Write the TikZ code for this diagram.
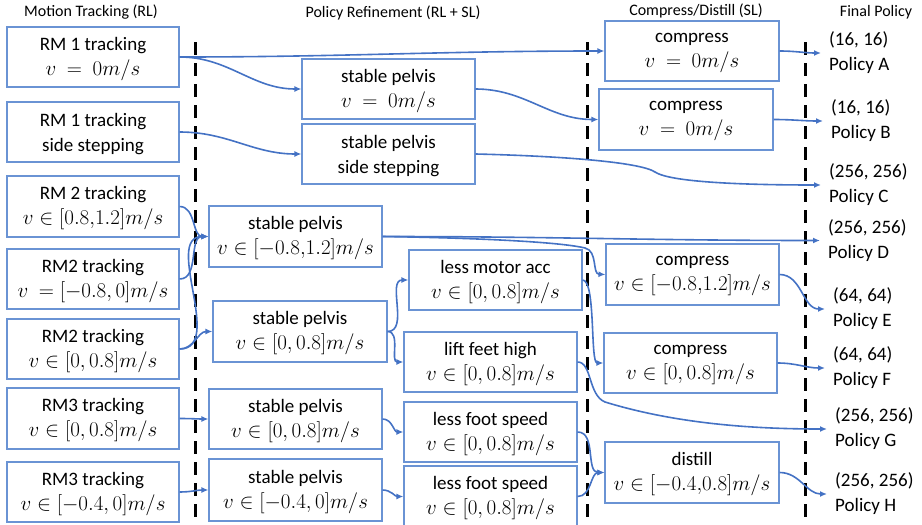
\RequirePackage{fix-cm}
\documentclass[tikz,border=0pt]{standalone}
\usepackage[no-math]{fontspec}
\setmainfont{Carlito}
\usetikzlibrary{arrows.meta}
\definecolor{lineblue}{HTML}{4472C4}
\definecolor{boxblue}{HTML}{6A93D4}
\newcommand\bxfont{\fontsize{19}{25}\selectfont}
\newcommand\hdfont{\fontsize{16}{20}\selectfont}
\newcommand\mth[1]{{\fontsize{21}{25}\selectfont$#1$}}
\begin{document}
\begin{tikzpicture}[x=1pt,y=-1pt,
  box/.style={draw=boxblue, line width=1.1pt, fill=white, inner sep=0pt},
  btxt/.style={align=center, inner sep=0pt, font=\bxfont, yshift=-2pt},
  pol/.style={anchor=west, align=left, inner xsep=8pt, inner ysep=0pt, font=\bxfont},
  hdr/.style={font=\hdfont, inner sep=0pt},
  conn/.style={draw=lineblue, line width=1.6pt, -{Latex[length=7pt,width=6pt]}},
  stage/.style={draw=black, line width=3pt, dash pattern=on 13pt off 8pt}]
\useasboundingbox (0,0) rectangle (922,525);
% headers
\node[hdr] (h1) at (91,12) {Motion Tracking (RL)};
\node[hdr] (h2) at (393,13) {Policy Refinement (RL + SL)};
\node[hdr] (h3) at (696,11) {Compress/Distill (SL)};
\node[hdr] (h4) at (876,12) {Final Policy};
% stage separators
\coordinate (d1t) at (195,42); \coordinate (d1b) at (195,525);
\coordinate (d2t) at (587,42); \coordinate (d2b) at (587,525);
\coordinate (d3t) at (805,42); \coordinate (d3b) at (805,525);
\draw[stage] (d1t) -- (d1b);
\draw[stage] (d2t) -- (d2b);
\draw[stage] (d3t) -- (d3b);
% column 1
\node[box, minimum width=172pt, minimum height=60pt, label={[btxt]center:{RM 1 tracking\\\mth{v\ =\ 0m/s}}}] (rm1a) at (93,57) {};
\node[box, minimum width=172pt, minimum height=60pt, label={[btxt]center:{RM 1 tracking\\side stepping}}] (rm1b) at (93,132) {};
\node[box, minimum width=172pt, minimum height=61pt, label={[btxt]center:{RM 2 tracking\\\mth{v\in[0.8{,}1.2]m/s}}}] (rm2a) at (93,206.5) {};
\node[box, minimum width=172pt, minimum height=60pt, label={[btxt]center:{RM2 tracking\\\mth{v\ = [-0.8, 0]m/s}}}] (rm2b) at (93,279) {};
\node[box, minimum width=172pt, minimum height=60pt, label={[btxt]center:{RM2 tracking\\\mth{v\in[0, 0.8]m/s}}}] (rm2c) at (93,349) {};
\node[box, minimum width=172pt, minimum height=61pt, label={[btxt]center:{RM3 tracking\\\mth{v\in[0, 0.8]m/s}}}] (rm3a) at (93,418.5) {};
\node[box, minimum width=172pt, minimum height=60pt, label={[btxt]center:{RM3 tracking\\\mth{v\in[-0.4, 0]m/s}}}] (rm3b) at (93,492) {};
% column 2
\node[box, minimum width=173pt, minimum height=60pt, label={[btxt]center:{stable pelvis\\\mth{v\ =\ 0m/s}}}] (spv0) at (388.5,89) {};
\node[box, minimum width=173pt, minimum height=60pt, label={[btxt]center:{stable pelvis\\side stepping}}] (spss) at (388.5,154) {};
\node[box, minimum width=173pt, minimum height=61pt, label={[btxt]center:{stable pelvis\\\mth{v\in[-0.8{,}1.2]m/s}}}] (spd) at (295.5,236.5) {};
\node[box, minimum width=174pt, minimum height=61pt, label={[btxt]center:{stable pelvis\\\mth{v\in[0, 0.8]m/s}}}] (spe) at (300,331.5) {};
\node[box, minimum width=173pt, minimum height=60pt, label={[btxt]center:{less motor acc\\\mth{v\in[0, 0.8]m/s}}}] (lma) at (495.5,280) {};
\node[box, minimum width=173pt, minimum height=60pt, label={[btxt]center:{lift feet high\\\mth{v\in[0, 0.8]m/s}}}] (lfh) at (490.5,362) {};
\node[box, minimum width=173pt, minimum height=60pt, label={[btxt]center:{stable pelvis\\\mth{v\in[0, 0.8]m/s}}}] (sp3) at (295.5,419) {};
\node[box, minimum width=173pt, minimum height=62pt, label={[btxt]center:{stable pelvis\\\mth{v\in[-0.4, 0]m/s}}}] (sp4) at (295.5,490) {};
\node[box, minimum width=173pt, minimum height=60pt, label={[btxt]center:{less foot speed\\\mth{v\in[0, 0.8]m/s}}}] (lfs1) at (490.5,432) {};
\node[box, minimum width=173pt, minimum height=61pt, label={[btxt]center:{less foot speed\\\mth{v\in[0, 0.8]m/s}}}] (lfs2) at (490.5,496.5) {};
% column 3
\node[box, minimum width=174pt, minimum height=60pt, label={[btxt]center:{compress\\\mth{v\ =\ 0m/s}}}] (cpa) at (692,51) {};
\node[box, minimum width=174pt, minimum height=61pt, label={[btxt]center:{compress\\\mth{v\ =\ 0m/s}}}] (cpb) at (686,119.5) {};
\node[box, minimum width=173pt, minimum height=61pt, label={[btxt]center:{compress\\\mth{v\in[-0.8{,}1.2]m/s}}}] (cpd) at (692.5,274.5) {};
\node[box, minimum width=173pt, minimum height=60pt, label={[btxt]center:{compress\\\mth{v\in[0, 0.8]m/s}}}] (cpe) at (690.5,363) {};
\node[box, minimum width=174pt, minimum height=61pt, label={[btxt]center:{distill\\\mth{v\in[-0.4{,}0.8]m/s}}}] (dst) at (692,472.5) {};
% final policies
\node[pol] (pA) at (821,53) {(16, 16)\\Policy A};
\node[pol] (pB) at (823,121) {(16, 16)\\Policy B};
\node[pol] (pC) at (821,185) {(256, 256)\\Policy C};
\node[pol] (pD) at (820,240.5) {(256, 256)\\Policy D};
\node[pol] (pE) at (825,309) {(64, 64)\\Policy E};
\node[pol] (pF) at (825,368) {(64, 64)\\Policy F};
\node[pol] (pG) at (827,429) {(256, 256)\\Policy G};
\node[pol] (pH) at (827,494) {(256, 256)\\Policy H};
% connectors
\draw[conn] (rm1a.east) to[out=0,in=180] (cpa.west);
\draw[conn] (rm1a.east) to[out=0,in=180] (spv0.west);
\draw[conn] (rm1b.east) to[out=0,in=180] (spss.west);
\draw[conn] (spv0.east) to[out=0,in=180] (cpb.west);
\draw[conn] (spss.east) .. controls (560,156) and (640,162) .. (655,172) .. controls (670,182) and (740,185) .. (pC.west);
\draw[conn] (cpa.east) to[out=0,in=180] (pA.west);
\draw[conn] (cpb.east) to[out=0,in=180] (pB.west);
\draw[conn] (rm2a.east) to[out=0,in=180] (spd.west);
\draw[conn] (rm2b.east) to[out=0,in=180] (spd.west);
\draw[conn] (rm2c.east) to[out=0,in=180] (spd.west);
\draw[conn] (rm2c.east) to[out=0,in=180] (spe.west);
\draw[conn] (spd.east) to[out=0,in=180] (pD.west);
\draw[conn] (spd.east) .. controls (480,238) and (560,242) .. (585,248) .. controls (598,251) and (592,274) .. (cpd.west);
\draw[conn] (spe.east) to[out=0,in=180] (lma.west);
\draw[conn] (spe.east) to[out=0,in=180] (lfh.west);
\draw[conn] (lma.east) .. controls (596,280) and (590,363) .. (cpe.west);
\draw[conn] (lfh.east) .. controls (592,362) and (588,395) .. (605,402) .. controls (680,425) and (760,429) .. (pG.west);
\draw[conn] (cpd.east) to[out=0,in=180] (pE.west);
\draw[conn] (cpe.east) to[out=0,in=180] (pF.west);
\draw[conn] (rm3a.east) to[out=0,in=180] (sp3.west);
\draw[conn] (rm3b.east) to[out=0,in=180] (sp4.west);
\draw[conn] (sp3.east) to[out=0,in=180] (lfs1.west);
\draw[conn] (sp4.east) to[out=0,in=180] (lfs2.west);
\draw[conn] (lfs1.east) to[out=0,in=180] (dst.west);
\draw[conn] (lfs2.east) to[out=0,in=180] (dst.west);
\draw[conn] (dst.east) to[out=0,in=180] (pH.west);
\end{tikzpicture}
\end{document}
